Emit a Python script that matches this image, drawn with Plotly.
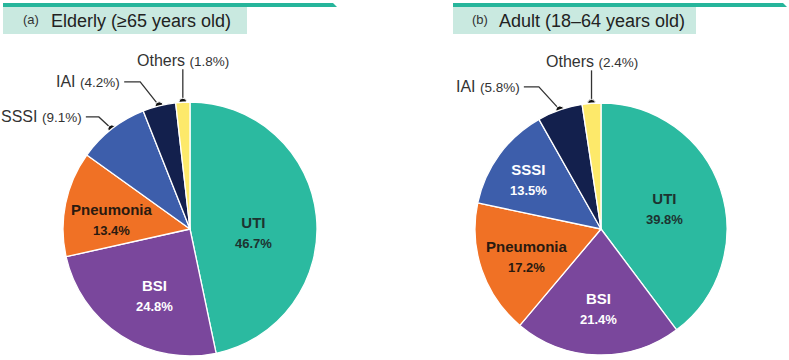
import math
import plotly.graph_objects as go

# ---------------- data ----------------
categories = ["UTI", "BSI", "Pneumonia", "SSSI", "IAI", "Others"]
elderly_values = [46.7, 24.8, 13.4, 9.1, 4.2, 1.8]
adult_values = [39.8, 21.4, 17.2, 13.5, 5.8, 2.4]
panel_letters = ["(a)", "(b)"]
panel_titles = ["Elderly (≥65 years old)", "Adult (18–64 years old)"]

# ---------------- style ----------------
W, H = 789, 360
FONT = "Liberation Sans, Arial, sans-serif"
colors = ["#2bbaa0", "#7a479c", "#f07125", "#3d5eab", "#13204d", "#fde96a"]
inside_font_colors = {"UTI": "#1d3330", "BSI": "#ffffff", "Pneumonia": "#2a1a10",
                      "SSSI": "#ffffff"}
TEAL = "#26b59b"
BOX = "#c9e9e0"

# inside label placement: (radial fraction, pixel nudge x, pixel nudge y)
panels = [
    dict(values=elderly_values, cx=190, cy=229, r=127,
         inside={"UTI": (0.50, 0, 10), "BSI": (0.59, 5, 3), "Pneumonia": (0.63, 0, 6)},
         box=(3, 247), line=(3, 333),
         letter_x=21, title_x=49,
         leaders={"SSSI": dict(elbow=(-13, -12), hlen=13),
                  "IAI": dict(elbow=(-19, -24), hlen=16),
                  "Others": dict(elbow=(0, -33), hlen=0)}),
    dict(values=adult_values, cx=601, cy=229, r=126,
         inside={"UTI": (0.53, 0, 1), "BSI": (0.62, 0, 1), "Pneumonia": (0.62, 0, 2),
                 "SSSI": (0.71, 0, 3)},
         box=(453, 696), line=(453, 783),
         letter_x=470, title_x=497,
         leaders={"IAI": dict(elbow=(-21, -23), hlen=15),
                  "Others": dict(elbow=(0, -33), hlen=0)}),
]

fig = go.Figure()
shapes = []
annotations = []

for i, p in enumerate(panels):
    vals = p["values"]
    total = sum(vals)
    cx, cy, r = p["cx"], p["cy"], p["r"]
    fig.add_trace(go.Pie(
        labels=categories, values=vals, sort=False, direction="clockwise",
        rotation=0, textinfo="none",
        marker=dict(colors=colors, line=dict(color="white", width=1.3)),
        domain=dict(x=[(cx - r) / W, (cx + r) / W],
                    y=[(H - cy - r) / H, (H - cy + r) / H]),
        hoverinfo="label+percent", showlegend=False,
    ))

    cum = 0.0
    for c, v in zip(categories, vals):
        mid = (cum + v / 2) / total
        cum += v
        ang = 2 * math.pi * mid
        # inside labels
        if c in p["inside"]:
            frac, nx, ny = p["inside"][c]
            d = frac * r
            tx, ty = cx + d * math.sin(ang) + nx, cy - d * math.cos(ang) + ny
            annotations.append(dict(
                x=tx, y=ty, xref="x", yref="y", showarrow=False,
                xanchor="center", yanchor="middle",
                text=f"<b>{c}</b><br><span style='font-size:13px'><b>{v}%</b></span>",
                font=dict(family=FONT, size=15, color=inside_font_colors[c])))
            continue
        if c not in p["leaders"]:
            continue
        # leader lines for small slices
        ld = p["leaders"][c]
        dx_, dy_ = cx + r * math.sin(ang), cy - r * math.cos(ang)
        ex, ey = dx_ + ld["elbow"][0], dy_ + ld["elbow"][1]
        hx = ex - ld["hlen"]
        fig.add_trace(go.Scatter(
            x=[dx_, ex, hx], y=[dy_, ey, ey], mode="lines",
            line=dict(color="#333333", width=1.3), xaxis="x", yaxis="y",
            hoverinfo="skip", showlegend=False))
        fig.add_trace(go.Scatter(
            x=[dx_], y=[dy_], mode="markers",
            marker=dict(color="#111111", size=8, line=dict(color="white", width=1)),
            xaxis="x", yaxis="y", hoverinfo="skip", showlegend=False))
        label = f"{c} <span style='font-size:13.5px'>({v}%)</span>"
        if ld["hlen"] == 0:
            annotations.append(dict(x=ex, y=ey + 2, xref="x", yref="y", text=label,
                                    showarrow=False, xanchor="center", yanchor="bottom",
                                    font=dict(family=FONT, size=16, color="#333333")))
        else:
            annotations.append(dict(x=hx - 2, y=ey, xref="x", yref="y", text=label,
                                    showarrow=False, xanchor="right", yanchor="middle",
                                    font=dict(family=FONT, size=16, color="#333333")))

    # title bar
    x0, x1 = p["box"]
    l0, l1 = p["line"]
    shapes.append(dict(type="path", xref="x", yref="y",
                       path=f"M {l0},3 L {l1},3 L {l1 + 4},7 L {l0},7 Z",
                       fillcolor=TEAL, line=dict(width=0), layer="below"))
    shapes.append(dict(type="rect", xref="x", yref="y", x0=x0, x1=x1, y0=7, y1=34,
                       fillcolor=BOX, line=dict(width=0), layer="below"))
    annotations.append(dict(x=p["letter_x"], y=19, xref="x", yref="y",
                            text=panel_letters[i], showarrow=False,
                            xanchor="left", yanchor="middle",
                            font=dict(family=FONT, size=13, color="#333333")))
    annotations.append(dict(x=p["title_x"], y=21, xref="x", yref="y",
                            text=panel_titles[i], showarrow=False,
                            xanchor="left", yanchor="middle",
                            font=dict(family=FONT, size=18, color="#222222")))

fig.update_layout(
    width=W, height=H, margin=dict(l=0, r=0, t=0, b=0),
    paper_bgcolor="white", plot_bgcolor="rgba(0,0,0,0)",
    xaxis=dict(range=[0, W], domain=[0, 1], visible=False, fixedrange=True),
    yaxis=dict(range=[H, 0], domain=[0, 1], visible=False, fixedrange=True),
    shapes=shapes, annotations=annotations, showlegend=False,
)

fig.write_html("out.html")
